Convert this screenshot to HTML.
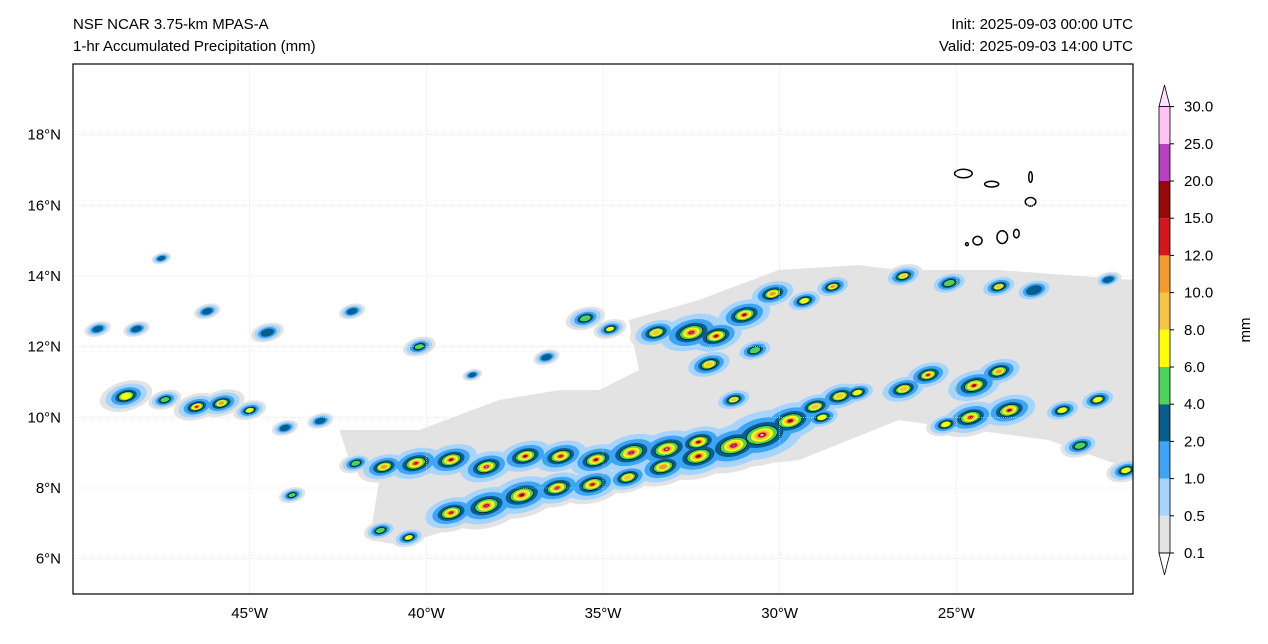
<!DOCTYPE html>
<html><head><meta charset="utf-8"><style>
body{margin:0;background:#fff;font-family:"Liberation Sans",sans-serif}
svg text{font-family:"Liberation Sans",sans-serif;font-size:15px;fill:#000}
</style></head><body>
<svg id="s" width="1268" height="639" xmlns="http://www.w3.org/2000/svg">
<text x="73" y="29">NSF NCAR 3.75-km MPAS-A</text>
<text x="73" y="51">1-hr Accumulated Precipitation (mm)</text>
<text x="1133" y="29" text-anchor="end">Init: 2025-09-03 00:00 UTC</text>
<text x="1133" y="51" text-anchor="end">Valid: 2025-09-03 14:00 UTC</text>
<defs><clipPath id="cp"><rect x="73" y="64" width="1060" height="530"/></clipPath></defs>
<g id="map" clip-path="url(#cp)"></g>
<g id="axes"></g>
<rect x="73" y="64" width="1060" height="530" fill="none" stroke="#000" stroke-width="1.2"/>
<g id="cbar"></g>
<text transform="translate(1250,330) rotate(-90)" text-anchor="middle">mm</text>
</svg>
<script>
const levels=[0.1,0.5,1.0,2.0,4.0,6.0,8.0,10.0,12.0,15.0,20.0,25.0,30.0];
const colors=["#e3e3e3","#a6d4ff","#3ca5f5","#065d8e","#4cd35a","#ffff00","#f7c443","#f59a2e","#d4161a","#990808","#b83ec2","#ffc2f5"];
const lonTicks=[-45,-40,-35,-30,-25];
const latTicks=[6,8,10,12,14,16,18];
const grayBand=[[-42.46,9.64],[-40.2,9.64],[-37.94,10.49],[-36.24,10.77],[-35.11,10.77],[-33.98,11.34],[-34.27,12.75],[-32.29,13.32],[-30.03,14.17],[-27.77,14.31],[-26.64,14.17],[-23.81,14.17],[-20.0,13.89],[-20.0,8.51],[-22.4,9.36],[-26.64,9.92],[-29.46,8.79],[-32.29,8.51],[-34.55,8.23],[-36.24,7.66],[-37.94,7.38],[-39.35,6.81],[-40.76,6.39],[-41.61,6.53],[-41.33,8.23],[-42.18,8.79]];
// [lon, lat, size(deg), peak level index]
const blobs=[[-39.3,7.3,0.5,8],[-38.3,7.5,0.6,10],[-37.3,7.8,0.6,9],[-36.3,8.0,0.5,10],[-35.3,8.1,0.5,8],[-34.3,8.3,0.4,6],[-33.3,8.6,0.5,7],[-32.3,8.9,0.6,9],[-31.3,9.2,0.7,10],[-30.5,9.5,0.8,11],[-29.7,9.9,0.6,9],[-29,10.3,0.4,6],[-28.3,10.6,0.4,6],
[-41.2,8.6,0.4,7],[-40.3,8.7,0.5,8],[-39.3,8.8,0.5,9],[-38.3,8.6,0.5,11],[-37.2,8.9,0.5,9],[-36.2,8.9,0.5,8],[-35.2,8.8,0.5,9],[-34.2,9.0,0.6,10],[-33.2,9.1,0.6,11],[-32.3,9.3,0.5,9],
[-33.5,12.4,0.4,6],[-32.5,12.4,0.6,10],[-31.8,12.3,0.5,9],[-31.0,12.9,0.5,9],[-30.2,13.5,0.4,7],[-29.3,13.3,0.3,5],[-28.5,13.7,0.3,7],[-32.0,11.5,0.4,6],[-31.3,10.5,0.3,6],[-30.7,11.9,0.3,4],
[-26.5,10.8,0.4,6],[-25.8,11.2,0.4,8],[-24.5,10.9,0.5,9],[-23.8,11.3,0.4,7],[-23.5,10.2,0.5,9],[-24.6,10.0,0.5,8],[-25.3,9.8,0.3,5],[-22,10.2,0.3,5],[-21,10.5,0.3,5],[-21.5,9.2,0.3,4],[-20.2,8.5,0.3,5],[-26.5,14.0,0.3,6],[-25.2,13.8,0.3,4],[-23.8,13.7,0.3,6],[-22.8,13.6,0.3,3],[-20.7,13.9,0.2,3],[-28.8,10.0,0.3,5],[-27.8,10.7,0.3,5],
[-48.5,10.6,0.4,5],[-47.4,10.5,0.25,4],[-46.5,10.3,0.35,8],[-45.8,10.4,0.35,7],[-45.0,10.2,0.25,5],[-49.3,12.5,0.2,3],[-48.2,12.5,0.2,3],[-44.5,12.4,0.25,3],[-46.2,13.0,0.2,3],[-40.2,12.0,0.25,4],[-42.1,13.0,0.2,3],[-44.0,9.7,0.2,3],[-43,9.9,0.2,3],[-35.5,12.8,0.3,4],[-34.8,12.5,0.25,5],[-36.6,11.7,0.2,3],[-47.5,14.5,0.15,3],[-38.7,11.2,0.15,3],[-42,8.7,0.25,4],[-43.8,7.8,0.2,4],[-41.3,6.8,0.25,4],[-40.5,6.6,0.25,5]];
const islands=[[-24.8,16.9,0.25,0.12],[-24.0,16.6,0.2,0.08],[-22.9,16.8,0.05,0.15],[-22.9,16.1,0.15,0.12],[-23.7,15.1,0.15,0.18],[-24.4,15.0,0.13,0.12],[-23.3,15.2,0.08,0.12],[-24.7,14.9,0.04,0.04]];
const NS="http://www.w3.org/2000/svg";
const X=lon=>73+(lon+50)*1060/30, Y=lat=>64+(20-lat)*530/15;
const map=document.getElementById('map'), axes=document.getElementById('axes'), cb=document.getElementById('cbar');
function mk(tag,attrs,parent){const e=document.createElementNS(NS,tag);for(const k in attrs)e.setAttribute(k,attrs[k]);parent.appendChild(e);return e;}
lonTicks.forEach(l=>{const g=mk('line',{x1:X(l),x2:X(l),y1:64,y2:594,stroke:'#ddd','stroke-width':0.6,'stroke-dasharray':'1,1'},axes);

const t=mk('text',{x:X(l),y:618,'text-anchor':'middle'},axes);t.textContent=(-l)+'°W';
});
latTicks.forEach(l=>{const g=mk('line',{x1:73,x2:1133,y1:Y(l),y2:Y(l),stroke:'#ddd','stroke-width':0.6,'stroke-dasharray':'1,1'},axes);

const t=mk('text',{x:61,y:Y(l)+5,'text-anchor':'end'},axes);t.textContent=l+'°N';
});
const gb=mk('polygon',{points:grayBand.map(p=>X(p[0])+','+Y(p[1])).join(' '),fill:colors[0]},map);

for(let k=0;k<colors.length;k++){blobs.forEach(b=>{if(b[3]<k)return;
 const f=k===0?1.9:1.5*Math.pow(0.72,k-1);const rx=b[2]*f*35.33,ry=b[2]*f*0.55*35.33;
 const e=mk('ellipse',{cx:X(b[0]),cy:Y(b[1]),rx:rx,ry:ry,fill:colors[k],transform:`rotate(-15 ${X(b[0])} ${Y(b[1])})`,stroke:k===4?'#000':'none','stroke-width':0.6},map);
 });}
islands.forEach(i=>{const e=mk('ellipse',{cx:X(i[0]),cy:Y(i[1]),rx:i[2]*35.33,ry:i[3]*35.33,fill:'none',stroke:'#000','stroke-width':1.5},map);
});
const cbY=v=>553-v*37.2;
for(let i=0;i<colors.length;i++){const r=mk('rect',{x:1159,y:cbY(i+1),width:11,height:37.2,fill:colors[i]},cb);
}
const tl=mk('polygon',{points:`1159,553 1170,553 1164.5,575`,fill:'#fff',stroke:'#000','stroke-width':0.8},cb);

const tu=mk('polygon',{points:`1159,${cbY(12)} 1170,${cbY(12)} 1164.5,85`,fill:'#ffe0ff',stroke:'#000','stroke-width':0.8},cb);

const fr=mk('rect',{x:1159,y:cbY(12),width:11,height:12*37.2,fill:'none',stroke:'#000','stroke-width':0.8},cb);

levels.forEach((v,i)=>{mk('line',{x1:1170,x2:1174,y1:cbY(i),y2:cbY(i),stroke:'#000'},cb);
const t=mk('text',{x:1184,y:cbY(i)+5},cb);t.textContent=v.toFixed(1);
});
</script>
</body></html>
